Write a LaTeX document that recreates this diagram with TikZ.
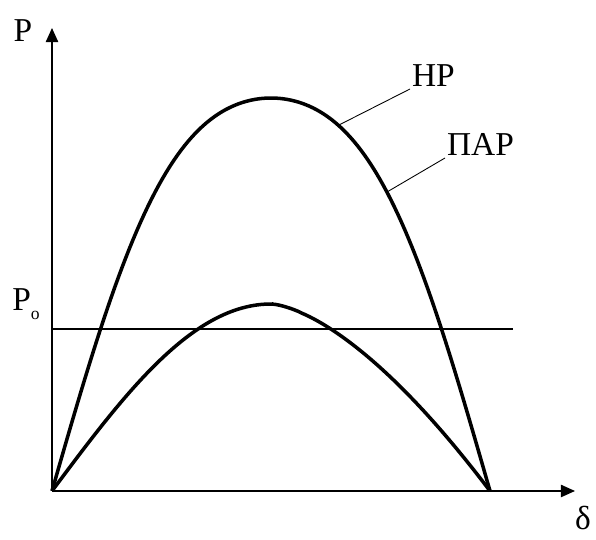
\documentclass[tikz,border=0pt]{standalone}
\usepackage{fontspec}
\setmainfont{Liberation Serif}
\usetikzlibrary{arrows.meta}
\begin{document}
\begin{tikzpicture}[font=\fontsize{19}{22}\selectfont]
\useasboundingbox (-1.04,-0.98) rectangle (10.88,9.82);
% axes
\coordinate (o) at (0,0);
\coordinate (ytop) at (0,9.26);
\coordinate (xend) at (10.46,0);
\draw[line width=.8pt,-{Triangle[length=8pt,width=7pt]}] (o)--(ytop);
\draw[line width=.8pt,-{Triangle[length=8pt,width=7pt]}] (o)--(xend);
\node (p) at (-0.58,9.2) {P};
\node (delta) at (10.62,-0.54) {δ};
% level P_o
\coordinate (pl) at (0,3.24);
\coordinate (pr) at (9.22,3.24);
\draw[line width=.8pt] (pl)--(pr);
\node[anchor=base west,inner sep=0pt] (po) at (-0.8,3.6) {P\raisebox{-.25em}{\fontsize{10}{10}\selectfont o}};
% characteristics
\draw[line width=2pt] plot[domain=0:8.76,samples=120]
  (\x,{7.86*(1.059*sin(\x/8.76*180)+0.059*sin(3*\x/8.76*180))});
\draw[line width=2pt] plot[domain=0:4.4,samples=60] (\x,{3.74*sin(\x/8.76*180)})
  -- plot[domain=4.4:8.76,samples=60] (\x,{3.74*(1-((\x-4.38)/4.38)^1.55)});
% labels
\coordinate (hrpt) at (5.70,7.30);
\coordinate (parpt) at (6.70,5.98);
\node[anchor=south west,inner sep=1pt] (hr) at (7.16,8.04) {НР};
\node[anchor=south west,inner sep=1pt] (par) at (7.86,6.66) {ПАР};
\draw[line width=.5pt] (hrpt)--(hr.south west);
\draw[line width=.5pt] (parpt)--(par.south west);
\end{tikzpicture}
\end{document}
